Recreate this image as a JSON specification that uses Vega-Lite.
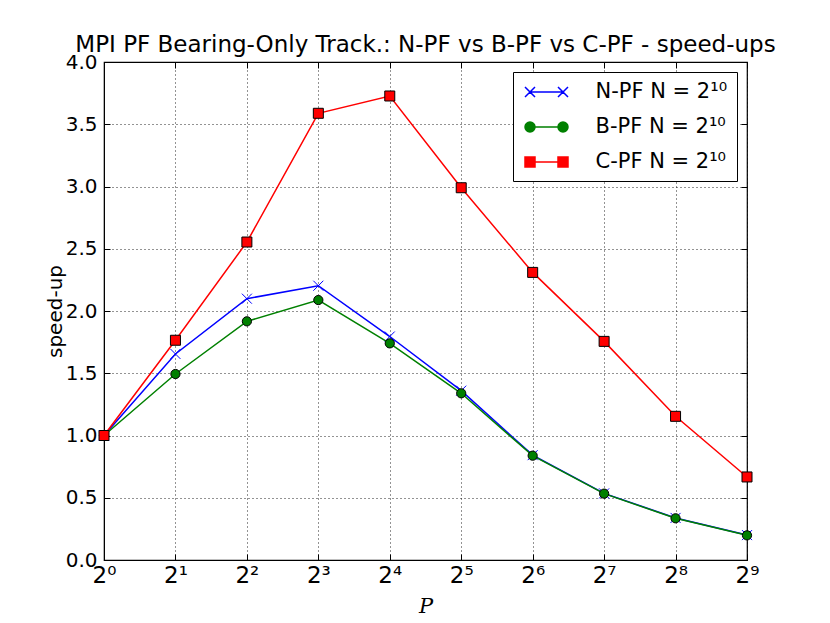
{
  "$schema": "https://vega.github.io/schema/vega-lite/v6.json",
  "width": 643,
  "height": 498,
  "autosize": "none",
  "padding": {"left": 104, "top": 62, "right": 83, "bottom": 63},
  "background": "white",
  "config": {
    "font": "DejaVu Sans",
    "view": {"stroke": "black", "strokeWidth": 1.2},
    "axis": {
      "labelColor": "black",
      "labelFont": "DejaVu Sans",
      "titleColor": "black",
      "titleFont": "DejaVu Sans",
      "titleFontWeight": "normal",
      "domainColor": "black",
      "tickColor": "black",
      "gridColor": "black",
      "gridDash": [1, 3],
      "gridWidth": 1,
      "gridOpacity": 0.85
    }
  },
  "title": {
    "text": "MPI PF Bearing-Only Track.: N-PF vs B-PF vs C-PF - speed-ups",
    "fontSize": 23,
    "fontWeight": "normal",
    "font": "DejaVu Sans",
    "color": "black",
    "anchor": "middle",
    "baseline": "alphabetic",
    "offset": -23
  },
  "data": {
    "values": [
      {"P": 1, "speedup": 1.0, "series": "N-PF N = 2¹⁰"},
      {"P": 2, "speedup": 1.655, "series": "N-PF N = 2¹⁰"},
      {"P": 4, "speedup": 2.099, "series": "N-PF N = 2¹⁰"},
      {"P": 8, "speedup": 2.203, "series": "N-PF N = 2¹⁰"},
      {"P": 16, "speedup": 1.795, "series": "N-PF N = 2¹⁰"},
      {"P": 32, "speedup": 1.36, "series": "N-PF N = 2¹⁰"},
      {"P": 64, "speedup": 0.842, "series": "N-PF N = 2¹⁰"},
      {"P": 128, "speedup": 0.535, "series": "N-PF N = 2¹⁰"},
      {"P": 256, "speedup": 0.338, "series": "N-PF N = 2¹⁰"},
      {"P": 512, "speedup": 0.2, "series": "N-PF N = 2¹⁰"},
      {"P": 1, "speedup": 1.0, "series": "B-PF N = 2¹⁰"},
      {"P": 2, "speedup": 1.494, "series": "B-PF N = 2¹⁰"},
      {"P": 4, "speedup": 1.917, "series": "B-PF N = 2¹⁰"},
      {"P": 8, "speedup": 2.088, "series": "B-PF N = 2¹⁰"},
      {"P": 16, "speedup": 1.74, "series": "B-PF N = 2¹⁰"},
      {"P": 32, "speedup": 1.339, "series": "B-PF N = 2¹⁰"},
      {"P": 64, "speedup": 0.838, "series": "B-PF N = 2¹⁰"},
      {"P": 128, "speedup": 0.533, "series": "B-PF N = 2¹⁰"},
      {"P": 256, "speedup": 0.335, "series": "B-PF N = 2¹⁰"},
      {"P": 512, "speedup": 0.198, "series": "B-PF N = 2¹⁰"},
      {"P": 1, "speedup": 1.0, "series": "C-PF N = 2¹⁰"},
      {"P": 2, "speedup": 1.765, "series": "C-PF N = 2¹⁰"},
      {"P": 4, "speedup": 2.554, "series": "C-PF N = 2¹⁰"},
      {"P": 8, "speedup": 3.588, "series": "C-PF N = 2¹⁰"},
      {"P": 16, "speedup": 3.727, "series": "C-PF N = 2¹⁰"},
      {"P": 32, "speedup": 2.99, "series": "C-PF N = 2¹⁰"},
      {"P": 64, "speedup": 2.31, "series": "C-PF N = 2¹⁰"},
      {"P": 128, "speedup": 1.756, "series": "C-PF N = 2¹⁰"},
      {"P": 256, "speedup": 1.154, "series": "C-PF N = 2¹⁰"},
      {"P": 512, "speedup": 0.667, "series": "C-PF N = 2¹⁰"}
    ]
  },
  "resolve": {"axis": {"x": "independent", "y": "independent"}},
  "layer": [
    {
      "transform": [{"filter": "datum.series === 'N-PF N = 2¹⁰'"}],
      "mark": {
        "type": "line",
        "color": "#0000ff",
        "strokeWidth": 1.5,
        "clip": false,
        "point": {"shape": "M-1,-1L1,1M1,-1L-1,1", "filled": false, "stroke": "#0000ff", "size": 100, "strokeWidth": 1}
      },
      "encoding": {
        "x": {
          "field": "P",
          "type": "quantitative",
          "scale": {"type": "log", "base": 2, "domain": [1, 512], "nice": false},
          "axis": {
            "values": [1, 2, 4, 8, 16, 32, 64, 128, 256, 512],
            "labelExpr": "'2' + ['⁰','¹','²','³','⁴','⁵','⁶','⁷','⁸','⁹'][round(log(datum.value)/log(2))]",
            "labelFontSize": 23,
            "labelPadding": 10,
            "labelFlush": false,
            "labelOverlap": false,
            "labelDx": -1,
            "tickSize": -6,
            "grid": true,
            "title": "P",
            "titleFont": "DejaVu Serif",
            "titleFontStyle": "italic",
            "titleFontSize": 21,
            "titlePadding": 8
          }
        },
        "y": {
          "field": "speedup",
          "type": "quantitative",
          "scale": {"domain": [0, 4], "nice": false, "zero": false},
          "axis": {
            "values": [0, 0.5, 1, 1.5, 2, 2.5, 3, 3.5, 4],
            "format": ".1f",
            "labelFontSize": 20,
            "labelPadding": 13,
            "labelFlush": false,
            "labelOverlap": false,
            "tickSize": -6,
            "grid": true,
            "title": "speed-up",
            "titleFontSize": 20,
            "titleAngle": 270,
            "titleAlign": "center",
            "titleBaseline": "alphabetic",
            "titleX": -43,
            "titleY": 249
          }
        }
      }
    },
    {
      "transform": [{"filter": "datum.series === 'B-PF N = 2¹⁰'"}],
      "mark": {
        "type": "line",
        "color": "#008000",
        "strokeWidth": 1.5,
        "clip": false,
        "point": {"shape": "circle", "filled": true, "fill": "#008000", "stroke": "black", "size": 85, "strokeWidth": 1}
      },
      "encoding": {
        "x": {"field": "P", "type": "quantitative", "axis": null},
        "y": {"field": "speedup", "type": "quantitative", "axis": null}
      }
    },
    {
      "transform": [{"filter": "datum.series === 'C-PF N = 2¹⁰'"}],
      "mark": {
        "type": "line",
        "color": "#ff0000",
        "strokeWidth": 1.5,
        "clip": false,
        "point": {"shape": "square", "filled": true, "fill": "#ff0000", "stroke": "black", "size": 100, "strokeWidth": 1}
      },
      "encoding": {
        "x": {"field": "P", "type": "quantitative", "axis": null},
        "y": {"field": "speedup", "type": "quantitative", "axis": null}
      }
    },
    {
      "mark": {"type": "point", "filled": true, "opacity": 0},
      "encoding": {
        "x": {
          "field": "P",
          "type": "quantitative",
          "axis": {"orient": "top", "values": [1, 2, 4, 8, 16, 32, 64, 128, 256, 512], "labels": false, "grid": false, "domain": false, "tickSize": -6, "title": null}
        },
        "y": {
          "field": "speedup",
          "type": "quantitative",
          "axis": {"orient": "right", "values": [0, 0.5, 1, 1.5, 2, 2.5, 3, 3.5, 4], "labels": false, "grid": false, "domain": false, "tickSize": -6, "title": null}
        },
        "fill": {
          "field": "series",
          "type": "nominal",
          "scale": {"domain": ["N-PF N = 2¹⁰", "B-PF N = 2¹⁰", "C-PF N = 2¹⁰"], "range": ["#0000ff", "#008000", "#ff0000"]},
          "legend": {
            "title": null,
            "orient": "top-right",
            "offset": 10,
            "padding": 9,
            "strokeColor": "black",
            "fillColor": "white",
            "cornerRadius": 0,
            "labelFont": "DejaVu Sans",
            "labelFontSize": 21,
            "labelColor": "black",
            "symbolOffset": 13.5,
            "labelOffset": 38,
            "symbolSize": 400,
            "symbolStrokeWidth": 1.5,
            "symbolOpacity": 1,
            "rowPadding": 14,
            "encode": {
              "symbols": {
                "update": {
                  "fill": {"scale": "fill", "field": "value"},
                  "stroke": {"scale": "fill", "field": "value"},
                  "opacity": {"value": 1},
                  "fillOpacity": {"value": 1}
                }
              }
            }
          }
        },
        "stroke": {
          "field": "series",
          "type": "nominal",
          "scale": {"domain": ["N-PF N = 2¹⁰", "B-PF N = 2¹⁰", "C-PF N = 2¹⁰"], "range": ["#0000ff", "#008000", "#ff0000"]}
        },
        "shape": {
          "field": "series",
          "type": "nominal",
          "scale": {
            "domain": ["N-PF N = 2¹⁰", "B-PF N = 2¹⁰", "C-PF N = 2¹⁰"],
            "range": [
              "M-1.65,0H1.65M-2.15,-0.5L-1.15,0.5M-2.15,0.5L-1.15,-0.5M1.15,-0.5L2.15,0.5M1.15,0.5L2.15,-0.5",
              "M-1.15,0H1.15M-1.15,0A0.5,0.5 0 1,1 -2.15,0A0.5,0.5 0 1,1 -1.15,0ZM2.15,0A0.5,0.5 0 1,1 1.15,0A0.5,0.5 0 1,1 2.15,0Z",
              "M-1.15,0H1.15M-2.15,-0.5H-1.15V0.5H-2.15ZM1.15,-0.5H2.15V0.5H1.15Z"
            ]
          }
        }
      }
    }
  ]
}
